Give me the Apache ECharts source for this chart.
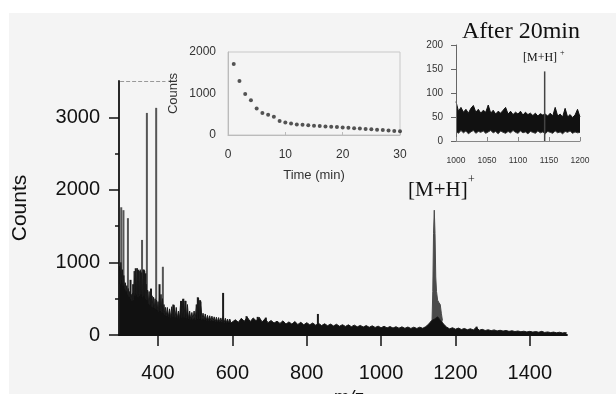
<!DOCTYPE html>
<html><head><meta charset="utf-8">
<script src="https://cdn.jsdelivr.net/npm/echarts@6/dist/echarts.min.js"></script>
<style>html,body{margin:0;padding:0;background:#fff}#c{width:616px;height:394px}</style>
</head><body><div id="c"></div>
<script>
// ---------- main spectrum ----------
const xTickValues = [400, 600, 800, 1000, 1200, 1400];
const yTickValues = [0, 1000, 2000, 3000];
const yMinorTickValues = [500, 1500, 2500];
const zoomBoxTop = 3500;
const zoomBoxMz = [298, 420];

const baseSpectrum = [
  [296,950],[298,700],[300,1000],[302,760],[304,900],[306,680],[308,820],[310,640],[312,720],[314,600],
  [316,680],[318,560],[320,640],[322,520],[324,600],[326,500],[328,560],[330,470],[332,580],[334,480],
  [336,880],[338,540],[340,900],[342,560],[344,920],[346,520],[348,880],[350,540],[352,900],[354,560],
  [356,860],[358,520],[360,900],[362,540],[364,880],[366,500],[368,700],[370,480],[372,620],[374,430],
  [376,600],[378,410],[380,560],[382,390],[384,540],[386,380],[388,520],[390,370],[392,500],[394,360],
  [396,480],[398,340],[400,460],[402,320],[404,520],[406,330],[408,560],[410,310],[412,500],[414,300],
  [416,420],[418,280],[420,380],[422,260],[425,380],[428,250],[431,360],[434,240],[437,390],[440,250],
  [443,410],[446,240],[449,380],[452,230],[455,330],[458,230],[461,460],[464,240],[467,490],[470,240],
  [473,470],[476,230],[479,420],[482,220],[485,330],[488,215],[491,310],[494,215],[497,330],[500,210],
  [503,420],[506,220],[509,510],[512,220],[515,460],[518,210],[521,300],[524,205],[527,290],[530,200],
  [533,270],[536,200],[539,265],[542,195],[545,260],[548,190],[551,250],[554,185],[557,245],[560,180],
  [563,240],[566,180],[569,235],[572,175],[575,250],[578,170],[581,230],[584,170],[587,220],[590,165],
  [593,220],[596,165],[600,190],[608,210],[616,175],[624,230],[632,190],[640,245],[648,185],[656,235],
  [664,195],[672,245],[680,180],[688,225],[696,170],[704,200],[712,165],[720,190],[728,160],[736,195],
  [744,150],[752,180],[760,150],[768,185],[776,145],[784,175],[792,140],[800,170],[808,140],[816,165],
  [824,135],[832,160],[840,130],[848,155],[856,128],[864,150],[872,125],[880,148],[888,120],[896,142],
  [904,118],[912,140],[920,115],[928,136],[936,112],[944,132],[952,110],[960,130],[968,106],[976,126],
  [984,104],[992,122],[1000,100],[1008,120],[1016,98],[1024,116],[1032,96],[1040,114],[1048,94],[1056,112],
  [1064,92],[1072,110],[1080,90],[1088,108],[1096,90],[1104,108],[1112,92],[1120,115],[1128,150],[1136,200],
  [1144,220],[1152,250],[1160,200],[1168,150],[1176,110],[1184,85],[1192,100],[1200,80],[1208,95],[1216,76],
  [1224,90],[1232,72],[1240,86],[1248,70],[1256,105],[1264,66],[1272,78],[1280,62],[1288,72],[1296,60],
  [1304,70],[1312,56],[1320,65],[1328,54],[1336,62],[1344,50],[1352,58],[1360,48],[1368,55],[1376,45],
  [1384,52],[1392,42],[1400,50],[1408,40],[1416,47],[1424,38],[1432,50],[1440,35],[1448,42],[1456,33],
  [1464,40],[1472,30],[1480,38],[1488,28],[1496,34],[1500,25]
];
const tallPeaks = [[301,1760],[307,1720],[319,1610],[357,1310],[370,3060],[395,3130],[413,940]];
const smallPeaks = [[326,760],[333,700],[340,920],[346,900],[352,880],[362,900],[366,850],[381,640],
  [404,700],[441,420],[462,470],[468,500],[474,470],[507,520],[513,480],[575,580],[638,260],[668,250],
  [690,240],[830,290],[1257,115]];
const mhProfile = [[1137,200],[1139,600],[1141,1400],[1143,1720],[1145,1400],[1147,800],[1149,600],
  [1152,480],[1155,450],[1159,420],[1162,300],[1165,200]];

// ---------- inset 1: counts vs time ----------
const timeMin = [1,2,3,4,5,6,7,8,9,10,11,12,13,14,15,16,17,18,19,20,21,22,23,24,25,26,27,28,29,30];
const timeCounts = [1710,1300,990,840,640,530,490,440,340,300,275,255,245,235,225,215,205,198,190,182,
  172,163,155,146,137,128,118,108,98,90];

// ---------- inset 2: after 20 min ----------
const afterMz = [1000,1004,1008,1012,1016,1020,1024,1028,1032,1036,1040,1044,1048,1052,1056,1060,1064,1068,
  1072,1076,1080,1084,1088,1092,1096,1100,1104,1108,1112,1116,1120,1124,1128,1132,1136,1140,1144,1148,1152,
  1156,1160,1164,1168,1172,1176,1180,1184,1188,1192,1196,1200];
const afterHigh = [82,62,70,60,66,58,68,74,60,66,58,64,60,75,58,64,56,62,58,64,70,56,62,55,60,56,62,54,60,55,
  58,53,58,52,57,54,56,52,58,52,70,52,56,50,68,50,55,49,54,66,50];
const afterLow = [20,16,22,17,21,15,19,22,16,20,18,21,16,19,22,17,20,15,21,18,16,20,17,22,18,16,21,17,19,15,
  20,18,16,21,17,19,15,20,18,16,21,17,19,15,20,18,21,16,19,17,18];
const afterPeak = [[1143,145]];

const chart = echarts.init(document.getElementById('c'), null, {renderer: 'canvas'});
const sans = 'Liberation Sans, Arial, sans-serif';
const serif = 'Liberation Serif, Times New Roman, serif';
const ink = '#111';
const bg = '#f4f4f4';
const plain = v => String(v);

const stickData = tallPeaks.map(p => ({value: p, itemStyle: {color: '#555'}}))
  .concat(smallPeaks.map(p => ({value: p, itemStyle: {color: '#1a1a1a'}})));

chart.setOption({
  animation: false,
  backgroundColor: bg,
  grid: [
    {left: 119, top: 81, width: 448, height: 254},
    {left: 228, top: 52, width: 172, height: 83, show: true, borderColor: '#c8c8c8', borderWidth: 1, backgroundColor: 'transparent'},
    {left: 456, top: 45, width: 124, height: 96}
  ],
  xAxis: [
    {type: 'value', gridIndex: 0, min: 295, max: 1500,
     axisLine: {lineStyle: {color: ink, width: 1.8}},
     axisTick: {customValues: xTickValues, length: 11, lineStyle: {color: ink, width: 1.5}},
     axisLabel: {customValues: xTickValues, formatter: plain, margin: 28, fontFamily: sans, fontSize: 20, color: ink},
     splitLine: {show: false}, z: 10},
    {type: 'value', gridIndex: 1, min: 0, max: 30, interval: 10,
     name: 'Time (min)', nameLocation: 'middle', nameGap: 34,
     nameTextStyle: {fontFamily: sans, fontSize: 13, color: '#333'},
     axisLine: {lineStyle: {color: '#bbb', width: 1}},
     axisTick: {inside: true, length: 3, lineStyle: {color: '#bbb'}},
     axisLabel: {formatter: plain, margin: 14, fontFamily: sans, fontSize: 12, color: '#333'},
     splitLine: {show: false}},
    {type: 'value', gridIndex: 2, min: 1000, max: 1200, interval: 50,
     axisLine: {lineStyle: {color: '#888', width: 1}},
     axisTick: {inside: true, length: 4, lineStyle: {color: '#888'}},
     axisLabel: {formatter: plain, margin: 15, fontFamily: sans, fontSize: 8.5, color: '#333'},
     splitLine: {show: false}, z: 10}
  ],
  yAxis: [
    {type: 'value', gridIndex: 0, min: 0, max: 3500, position: 'left',
     name: 'Counts', nameLocation: 'middle', nameGap: 88, nameRotate: 90,
     nameTextStyle: {fontFamily: sans, fontSize: 21, color: ink},
     axisLine: {lineStyle: {color: ink, width: 1.8}},
     axisTick: {customValues: yTickValues, length: 10, lineStyle: {color: ink, width: 1.5}},
     axisLabel: {customValues: yTickValues, formatter: plain, margin: 19, fontFamily: sans, fontSize: 20, color: ink},
     splitLine: {show: false}, z: 10},
    {type: 'value', gridIndex: 0, min: 0, max: 3500, position: 'left', offset: 0,
     axisLine: {show: false},
     axisTick: {customValues: yMinorTickValues, length: 4, lineStyle: {color: ink, width: 1.5}},
     axisLabel: {show: false}, splitLine: {show: false}},
    {type: 'value', gridIndex: 1, min: 0, max: 2000, interval: 1000,
     name: 'Counts', nameLocation: 'middle', nameGap: 48, nameRotate: 90,
     nameTextStyle: {fontFamily: sans, fontSize: 13, color: '#333'},
     axisLine: {lineStyle: {color: '#bbb', width: 1}},
     axisTick: {show: false},
     axisLabel: {formatter: plain, margin: 12, fontFamily: sans, fontSize: 12, color: '#333'},
     splitLine: {show: false}},
    {type: 'value', gridIndex: 2, min: 0, max: 200, interval: 50,
     axisLine: {lineStyle: {color: '#666', width: 1}},
     axisTick: {length: 5, lineStyle: {color: '#666'}},
     axisLabel: {formatter: plain, margin: 13, fontFamily: sans, fontSize: 10, color: '#333'},
     splitLine: {show: false}, z: 10}
  ],
  series: [
    {type: 'line', xAxisIndex: 0, yAxisIndex: 0, data: mhProfile, showSymbol: false,
     lineStyle: {color: '#4a4a4a', width: 1}, areaStyle: {color: '#4a4a4a', opacity: 1}, z: 3},
    {type: 'bar', xAxisIndex: 0, yAxisIndex: 0, data: stickData, barWidth: 2, z: 4},
    {type: 'line', xAxisIndex: 0, yAxisIndex: 0, data: baseSpectrum, showSymbol: false,
     lineStyle: {color: '#1a1a1a', width: 1}, areaStyle: {color: '#111', opacity: 1}, z: 5,
     markLine: {silent: true, symbol: 'none', label: {show: false},
       lineStyle: {type: 'dashed', color: '#999', width: 1},
       data: [[{coord: [zoomBoxMz[0], zoomBoxTop]}, {coord: [zoomBoxMz[1], zoomBoxTop]}]]}},
    {type: 'scatter', xAxisIndex: 1, yAxisIndex: 2,
     data: timeMin.map((t, i) => [t, timeCounts[i]]),
     symbolSize: 4, itemStyle: {color: '#2a2a2a'}},
    {type: 'line', xAxisIndex: 2, yAxisIndex: 3, showSymbol: false,
     data: afterMz.map((m, i) => [m, afterHigh[i]]),
     lineStyle: {color: '#111', width: 1}, areaStyle: {color: '#111', opacity: 1}, z: 3},
    {type: 'line', xAxisIndex: 2, yAxisIndex: 3, showSymbol: false,
     data: afterMz.map((m, i) => [m, afterLow[i]]),
     lineStyle: {color: '#333', width: 1}, areaStyle: {color: bg, opacity: 1}, z: 4},
    {type: 'bar', xAxisIndex: 2, yAxisIndex: 3, data: afterPeak, barWidth: 1.5,
     itemStyle: {color: '#444'}, z: 5}
  ],
  graphic: [
    {type: 'rect', shape: {x: 0, y: 0, width: 616, height: 13}, style: {fill: '#fff'}, z: -1},
    {type: 'rect', shape: {x: 0, y: 0, width: 9, height: 394}, style: {fill: '#fff'}, z: -1},
    {type: 'text', left: 462, top: 20, style: {text: 'After 20min', font: '24px ' + serif, fill: ink}},
    {type: 'text', left: 523, top: 52, style: {text: '[M+H]', font: '12px ' + serif, fill: ink}},
    {type: 'text', left: 560, top: 49, style: {text: '+', font: '8px ' + serif, fill: ink}},
    {type: 'text', left: 408, top: 180, style: {text: '[M+H]', font: '21px ' + serif, fill: ink}},
    {type: 'text', left: 468, top: 174, style: {text: '+', font: '12px ' + serif, fill: ink}},
    {type: 'text', left: 333, top: 388, style: {text: 'm/z', font: 'italic 19px ' + sans, fill: ink}}
  ]
});
</script></body></html>
